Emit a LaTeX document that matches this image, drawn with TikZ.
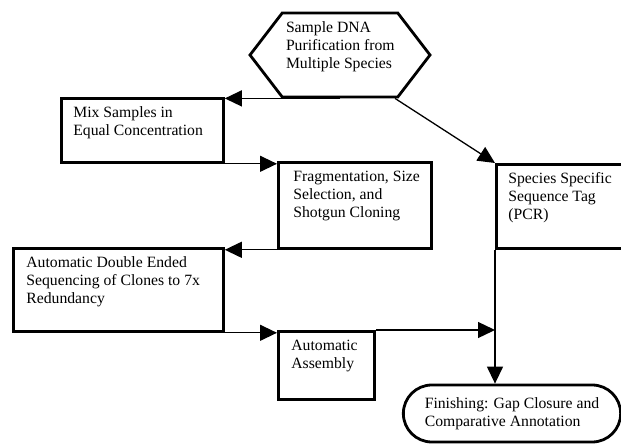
\documentclass[tikz,border=0pt]{standalone}
\usepackage{fontspec}
\setmainfont{Liberation Serif}
\usetikzlibrary{arrows.meta,shapes.symbols,shapes.misc}
\newcommand{\boxtext}[3]{\parbox[c][#2pt][t]{#1pt}{\begin{tabular}[t]{@{}l@{}}#3\end{tabular}}}

\begin{document}
\begin{tikzpicture}[x=1pt, y=-1pt, >={Triangle[length=17pt,width=16pt]},
    font=\fontsize{15.7}{18}\selectfont,
    procbox/.style={draw, line width=2.8pt, anchor=north west, inner xsep=12pt, inner ysep=6pt},
    flow/.style={->, line width=1.3pt}]
  \useasboundingbox (0,0) rectangle (621,444);
  \node (hex) [draw, line width=2.8pt, signal, signal to=west and east, signal pointer angle=105,
    minimum width=180pt, minimum height=84pt, inner sep=2pt] at (340,55)
    {\boxtext{108}{70}{Sample DNA\\Purification from\\Multiple Species}};
  \node (mix) [procbox] at (60,97) {\boxtext{138}{52}{Mix Samples in\\Equal Concentration}};
  \node (frag) [procbox, inner xsep=15pt] at (277,161) {\boxtext{123}{74}{Fragmentation, Size\\Selection, and\\Shotgun Cloning}};
  \node (tag) [procbox] at (495,163) {\boxtext{121}{72}{Species Specific\\Sequence Tag\\(PCR)}};
  \node (seq) [procbox, inner xsep=13pt] at (12,247) {\boxtext{184}{71}{Automatic Double Ended\\Sequencing of Clones to 7x\\Redundancy}};
  \node (asm) [procbox, inner xsep=13pt] at (277,330) {\boxtext{70}{56}{Automatic\\Assembly}};
  \node (fin) [draw, line width=2.8pt, rounded rectangle, minimum width=224pt, minimum height=57pt,
    align=left] at (512,413.5) {Finishing: Gap Closure and\\Comparative Annotation};
  \coordinate (hexse) at ([xshift=55pt]hex.south);
  \draw[flow] (hex.south) -- (hex.south -| mix.east);
  \draw[flow] (hexse) -- (tag.north west);
  \draw[flow] (mix.south east) -- (mix.south east -| frag.west);
  \draw[flow] (frag.south west) -- (frag.south west -| seq.east);
  \draw[flow] (seq.south east) -- (seq.south east -| asm.west);
  \draw[flow] (asm.north east) -- (asm.north east -| tag.south west);
  \draw[flow] (tag.south west) -- (tag.south west |- fin.north);
\end{tikzpicture}
\end{document}
